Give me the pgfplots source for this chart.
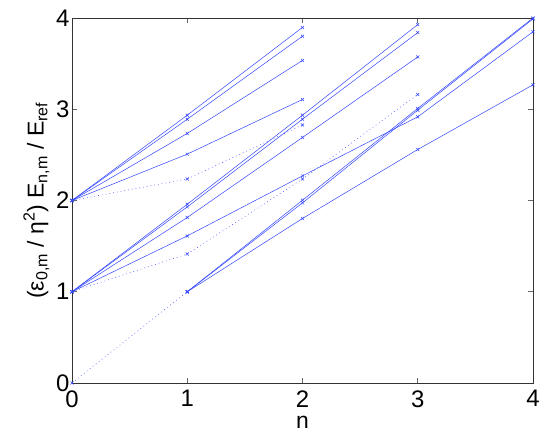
\documentclass[border=0pt]{standalone}
\usepackage{fontspec}
\setmainfont{Liberation Sans}
\usepackage{pgfplots}
\pgfplotsset{compat=1.18}
\definecolor{mblue}{RGB}{50,70,255}
\pgfplotsset{
  s/.style={color=mblue, line width=0.5bp, mark=x, mark size=2.2bp, mark options={solid}},
  d/.style={s, dash pattern=on 0.8bp off 3bp},
}
\begin{document}
\begin{tikzpicture}
\path[use as bounding box] (0,0) rectangle (545bp,433bp);
\begin{axis}[
  at={(72bp,50bp)}, anchor=south west,
  scale only axis, width=461bp, height=365bp,
  xmin=0, xmax=4, ymin=0, ymax=4,
  xtick={0,1,2,3,4}, ytick={0,1,2,3,4},
  tick align=inside, major tick length=5bp,
  axis line style={line width=0.6bp, black!80},
  every tick/.style={line width=0.6bp, black!60},
  /pgf/number format/assume math mode=true,
  tick label style={font=\fontsize{24}{28}\selectfont},
  xticklabel style={yshift=-4bp},
  yticklabel style={xshift=1bp},
  label style={font=\fontsize{23}{27}\selectfont},
  xlabel={n},
  xlabel style={inner sep=0pt, anchor=north, at={(0.5,-0.09)}},
  ylabel={(ε\textsubscript{0,m} / η\textsuperscript{2}) E\textsubscript{n,m} / E\textsubscript{ref}},
  clip=false,
]
% dotted families
\addplot[d] coordinates {(0,0) (1,1)};
\addplot[d] coordinates {(0,1) (1,1.414) (2,2.236) (3,3.162)};
\addplot[d] coordinates {(0,2) (1,2.236) (2,2.828)};
% from (1,1)
\addplot[s] coordinates {(1,1) (2,2.003) (3,3.009) (4,4.0)};
\addplot[s] coordinates {(1,1) (2,1.974) (3,2.990) (4,3.99)};
\addplot[s] coordinates {(1,1) (2,1.803) (3,2.559) (4,3.268)};
% from (0,1)
\addplot[s] coordinates {(0,1) (1,1.959) (2,2.935) (3,3.928)};
\addplot[s] coordinates {(0,1) (1,1.930) (2,2.891) (3,3.840)};
\addplot[s] coordinates {(0,1) (1,1.814) (2,2.691) (3,3.573)};
\addplot[s] coordinates {(0,1) (1,1.612) (2,2.270) (3,2.917) (4,3.849)};
% from (0,2)
\addplot[s] coordinates {(0,2) (1,2.935) (2,3.897)};
\addplot[s] coordinates {(0,2) (1,2.891) (2,3.801)};
\addplot[s] coordinates {(0,2) (1,2.735) (2,3.535)};
\addplot[s] coordinates {(0,2) (1,2.508) (2,3.107)};
\end{axis}
\end{tikzpicture}
\end{document}
